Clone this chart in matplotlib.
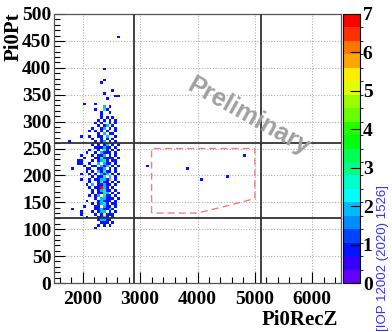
import colorsys
import numpy as np
import matplotlib
matplotlib.use("Agg")
import matplotlib.pyplot as plt
from matplotlib.colors import ListedColormap, BoundaryNorm
from matplotlib.ticker import MultipleLocator

# ---------------- data ----------------
# 2D histogram bins: Pi0RecZ 1500..6500 step 50, Pi0Pt 0..500 step 5
z_edges = np.arange(1500, 6501, 50)
pt_edges = np.arange(0, 501, 5)

# cluster columns: Z lower edge = 1750 + 50*col ; tokens "col" (count 1) or "col:count"
col_z0 = 1750
row_pt = [455, 395, 375, 370, 355, 350, 345, 340, 330, 325, 320, 315, 310, 305,
          300, 295, 290, 285, 280, 275, 270, 265, 260, 255, 250, 245, 240, 235,
          230, 225, 220, 215, 210, 205, 200, 195, 190, 185, 180, 175, 170, 165,
          160, 155, 150, 145, 140, 135, 130, 125, 120, 115, 110, 105, 100]
row_cells = [
    "17", "12", "12", "11", "15", "12", "16 17", "13", "5 9", "12:2 14",
    "9 12:3 13", "11 14", "11", "11 13 15", "10 12 14 16", "9 11 14 16",
    "10 12 13:2 15", "8 11 12:2 14 16", "7 9 11 13 16", "10 12:2 14 15",
    "4 7 10 11 13:2 16", "8 11 13 15", "0 9 11 12:2 14 16",
    "8 10 12 13:2 15 17", "9 10 11 12:2 13 14 16",
    "7 10 12:3 13 15 17", "6 9 11:2 12 13 14 16",
    "4 8 10 11 12:2 14 16", "5 9 10 11:3 12 13 14 15 17",
    "3 4 8 10 11:2 12:3 13 15 16", "3 4 7 10:2 12:2 13 14 16",
    "5 8 9 11:2 12 13:2 15 17", "1 6 7 10 11 12:2 14 16",
    "6 8 10:2 11 12:3 13 14 16", "4 7 9 11:2 12 13:2 15 17",
    "8 10 11 12:3 14:2 16", "4 7 9 10 11:2 12:2 13 14:6 16",
    "7 10 11:3 12 13 15 17", "6 8:2 10 11 12:2 13 14 16",
    "7 9 10 11:7 12:2 13 15", "8 10 11:2 12:3 13 14 16",
    "8 10 11 12:3 13:2 15 17", "7 9 10:2 12:3 13 14 16",
    "9 11:2 12:2 13 14 15 17", "6 10 11:2 12 13 14 16",
    "8 10 11:2 12:3 13 15 16", "5 9 10 12:2 13 14 16",
    "1 9 10 11:2 12 13 14:2 15", "4 8 10 11:2 12:2 14 16",
    "4 9 11 12:5 13 14 15", "6 10 11 12:2 13 15", "10 11:2 12:2 13 14",
    "11 12 13 15", "10 12 14", "9",
]
# isolated events inside the blind region
iso_z = [3131, 3830, 4078, 4523, 4823]
iso_pt = [217, 212, 191, 196, 236]

# analysis region lines
blind_z = [2900, 5100]
blind_pt = [120, 260]
sig_z = [3200, 3200, 5000, 5000, 4500, 4000, 3200]
sig_pt = [130, 250, 250, 157, 143, 130, 130]

zmax = 7

# ---------------- histogram ----------------
H = np.zeros((len(z_edges) - 1, len(pt_edges) - 1))
for pt, cells in zip(row_pt, row_cells):
    for tok in cells.split():
        if ":" in tok:
            c, n = tok.split(":")
        else:
            c, n = tok, 1
        z = col_z0 + 50 * int(c) + 25
        i = np.searchsorted(z_edges, z) - 1
        j = np.searchsorted(pt_edges, pt + 2.5) - 1
        H[i, j] += int(n)
for z, pt in zip(iso_z, iso_pt):
    i = np.searchsorted(z_edges, z, side="right") - 1
    j = np.searchsorted(pt_edges, pt, side="right") - 1
    H[i, j] += 1

# ROOT "pretty" palette with 20 contours
ncont = 20
cols = []
for k in range(ncont):
    idx = int((k + 0.99) * 50 / ncont)
    hue = 280 - (idx + 1) * 5.6
    cols.append(colorsys.hls_to_rgb(hue / 360.0, 0.5, 1.0))
cmap = ListedColormap(cols)
norm = BoundaryNorm(np.linspace(0, zmax, ncont + 1), ncont)

serif = "Liberation Serif"
W, Hpx = 392, 332
fig = plt.figure(figsize=(W / 100, Hpx / 100), dpi=100)
ax = fig.add_axes([54 / W, 49 / Hpx, 287 / W, 269 / Hpx])

Hm = np.ma.masked_where(H.T <= 0, np.clip(H.T, 0, zmax - 1e-6))
mesh = ax.pcolormesh(z_edges, pt_edges, Hm, cmap=cmap, norm=norm, zorder=2)

ax.set_xlim(1500, 6500)
ax.set_ylim(0, 500)
ax.xaxis.set_major_locator(MultipleLocator(1000))
ax.xaxis.set_minor_locator(MultipleLocator(200))
ax.yaxis.set_major_locator(MultipleLocator(50))
ax.yaxis.set_minor_locator(MultipleLocator(10))
ax.grid(True, which="major", color="#b0b0b0", linestyle=(0, (1, 1.5)), linewidth=0.8, zorder=1)
ax.tick_params(which="both", direction="in", top=False, right=False)
ax.tick_params(which="major", length=8, width=0.8)
ax.tick_params(which="minor", length=4, width=0.8)
ax.tick_params(axis="x", pad=6)
ax.tick_params(axis="y", pad=2)
for lab in ax.get_xticklabels() + ax.get_yticklabels():
    lab.set_fontfamily(serif)
    lab.set_fontweight("bold")
    lab.set_fontsize(14)
for s in ax.spines.values():
    s.set_color("#555555")
    s.set_linewidth(0.9)

for z in blind_z:
    ax.axvline(z, color="#333333", linewidth=1.3, zorder=3)
for pt in blind_pt:
    ax.axhline(pt, color="#333333", linewidth=1.3, zorder=3)
ax.plot(sig_z, sig_pt, color="#f08080", linewidth=1.0, linestyle=(0, (5, 3)), zorder=3)

fig.text(338 / W, 1 - 320 / Hpx, "Pi0RecZ", ha="right", va="center",
         fontfamily=serif, fontweight="bold", fontsize=15)
fig.text(14 / W, 1 - 12 / Hpx, "Pi0Pt", ha="center", va="top", rotation=90,
         fontfamily=serif, fontweight="bold", fontsize=15)

ax.text(0.68, 0.62, "Preliminary", transform=ax.transAxes, rotation=-29,
        ha="center", va="center", color="#a0a0a0", fontsize=18,
        fontfamily="Liberation Sans", fontweight="bold", zorder=4)

cax = fig.add_axes([343 / W, 49 / Hpx, 17 / W, 269 / Hpx])
cb = fig.colorbar(mesh, cax=cax, ticks=range(0, zmax + 1))
cb.outline.set_linewidth(0.8)
cax.tick_params(direction="in", length=7, width=0.8, pad=2)
for lab in cax.get_yticklabels():
    lab.set_fontfamily(serif)
    lab.set_fontweight("bold")
    lab.set_fontsize(14)

fig.text(383 / W, 1 - 258 / Hpx, "[IOP 12002 (2020) 1526]", rotation=90,
         ha="center", va="center", color="#3333ee", fontsize=9.5,
         fontfamily="Liberation Sans")

fig.savefig("out.png", dpi=100)
